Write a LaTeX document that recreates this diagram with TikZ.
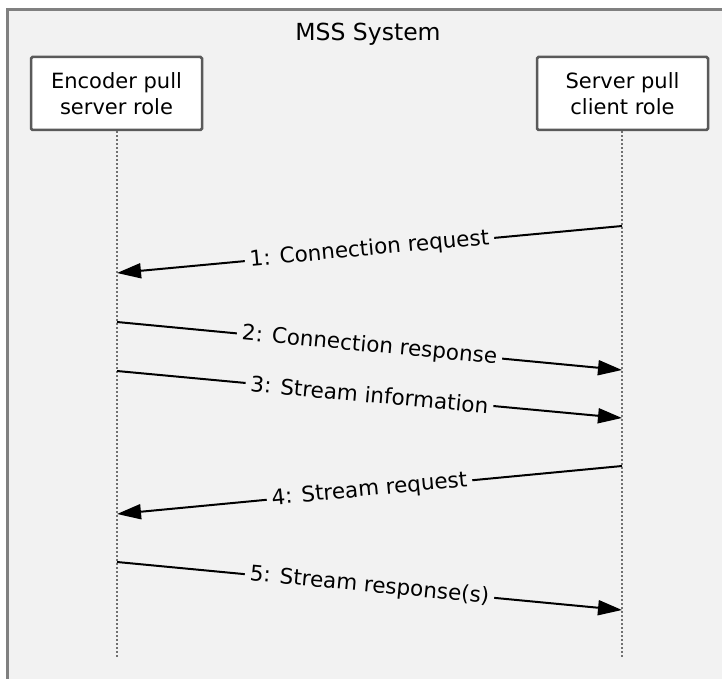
\documentclass[tikz,border=0pt]{standalone}
\usepackage{fontspec}
\setmainfont{DejaVu Sans}
\usetikzlibrary{arrows.meta}
\definecolor{bg}{HTML}{F2F2F2}
\definecolor{frame}{HTML}{808080}
\definecolor{boxline}{HTML}{5A5A5A}
\definecolor{lifeline}{HTML}{707070}
\tikzset{
  rolebox/.style={draw=boxline, line width=2.5pt, fill=white, rounded corners=1.5pt,
    minimum width=171pt, minimum height=73pt, align=center, inner sep=2pt,
    font=\fontsize{21}{26}\selectfont},
  lifelinestyle/.style={draw=lifeline, line width=2.4pt, dash pattern=on 2.2pt off 1.8pt},
  msg/.style={line width=2pt, -{Triangle[length=24pt,width=15pt]}},
  msglabel/.style={midway, sloped, fill=bg, inner xsep=5pt, inner ysep=3pt, font=\fontsize{21.5}{26}\selectfont}
}
\begin{document}
\begin{tikzpicture}[x=1pt, y=-1pt]
\useasboundingbox (0,0) rectangle (722,679);
\clip (0,0) rectangle (722,679);
\draw[frame, line width=3.5pt, fill=bg] (7.5,9.5) rectangle (760,720);
\node[font=\fontsize{23.5}{28}\selectfont] (title) at (368,34) {MSS System};
\node[rolebox] (enc) at (116.5,93.5) {Encoder pull\\server role};
\node[rolebox] (srv) at (622.5,93.5) {Server pull\\client role};
\coordinate (encend) at (117,658);
\coordinate (srvend) at (622,658);
\draw[lifelinestyle] (enc.south -| encend) -- (encend);
\draw[lifelinestyle] (srv.south -| srvend) -- (srvend);
% message points
\coordinate (s1) at (622,226); \coordinate (e1) at (117,273);
\coordinate (e2) at (117,322); \coordinate (s2) at (622,370);
\coordinate (e3) at (117,371); \coordinate (s3) at (622,418);
\coordinate (s4) at (622,466); \coordinate (e4) at (117,514);
\coordinate (e5) at (117,562); \coordinate (s5) at (622,610);
\draw[msg] (s1) -- node[msglabel] (l1) {1: Connection request} (e1);
\draw[msg] (e2) -- node[msglabel] (l2) {2: Connection response} (s2);
\draw[msg] (e3) -- node[msglabel] (l3) {3: Stream information} (s3);
\draw[msg] (s4) -- node[msglabel] (l4) {4: Stream request} (e4);
\draw[msg] (e5) -- node[msglabel] (l5) {5: Stream response(s)} (s5);
\end{tikzpicture}
\end{document}
